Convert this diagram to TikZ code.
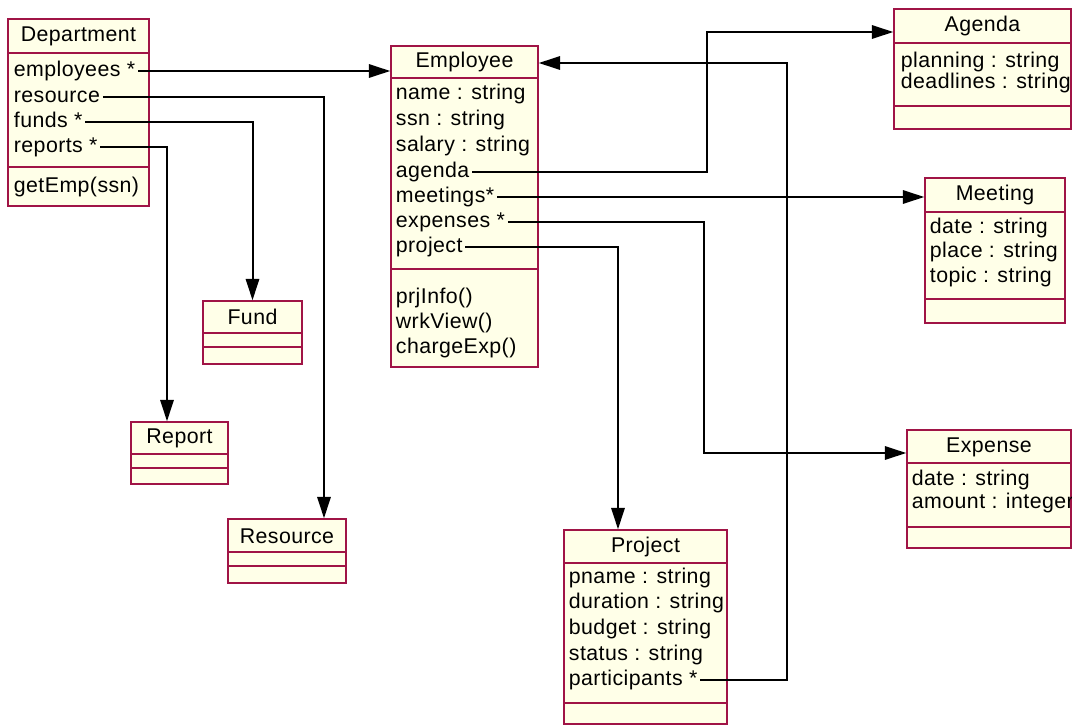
\documentclass[tikz,border=0pt]{standalone}
\usepackage{fontspec}
\setmainfont{Liberation Sans}[LetterSpace=2]
\usetikzlibrary{arrows.meta,fit}

\definecolor{classred}{RGB}{160,20,70}
\definecolor{classfill}{RGB}{255,255,232}

\tikzset{
  classbox/.style={draw=classred, fill=classfill, line width=1.1pt, inner sep=0pt},
  sepline/.style={draw=classred, line width=1.1pt},
  classname/.style={inner sep=0pt, font=\fontsize{16}{19}\selectfont},
  member/.style={anchor=west, inner xsep=2pt, inner ysep=0pt, text height=11.2pt, text depth=3.2pt, font=\fontsize{16}{19}\selectfont},
  assoc/.style={line width=1.5pt, -{Triangle[length=16pt,width=10pt]}},
}

\begin{document}
\begin{tikzpicture}[x=0.75pt, y=-0.75pt]
  \useasboundingbox (0,0) rectangle (1072,725);

  % Department
  \node[classbox, fit={(8,19) (149,206)}] (department) {};
  \draw[sepline] (8,53) -- (149,53);
  \draw[sepline] (8,167) -- (149,167);
  \node[classname] (department-name) at (78.5,36) {Department};
  \node[member] (dep-employees) at (11,71) {employees *};
  \node[member] (dep-resource) at (11,97) {resource};
  \node[member] (dep-funds) at (11,122) {funds *};
  \node[member] (dep-reports) at (11,147) {reports *};
  \node[member] (dep-getemp) at (11,187) {getEmp(ssn)};

  % Employee
  \node[classbox, fit={(391,46) (538,367)}] (employee) {};
  \draw[sepline] (391,78) -- (538,78);
  \draw[sepline] (391,269) -- (538,269);
  \node[classname] (employee-name) at (464.5,62) {Employee};
  \node[member] (emp-name) at (393,94) {name : string};
  \node[member] (emp-ssn) at (393,120) {ssn : string};
  \node[member] (emp-salary) at (393,146) {salary : string};
  \node[member] (emp-agenda) at (393,172) {agenda};
  \node[member] (emp-meetings) at (393,197) {meetings*};
  \node[member] (emp-expenses) at (393,222) {expenses *};
  \node[member] (emp-project) at (393,247) {project};
  \node[member] (emp-prjinfo) at (393,298) {prjInfo()};
  \node[member] (emp-wrkview) at (393,323) {wrkView()};
  \node[member] (emp-chargeexp) at (393,348) {chargeExp()};

  % Agenda
  \node[classbox, fit={(894,9) (1071,129)}] (agenda) {};
  \draw[sepline] (894,43) -- (1071,43);
  \draw[sepline] (894,106) -- (1071,106);
  \node[classname] (agenda-name) at (982.5,26) {Agenda};
  \node[member] (ag-planning) at (898,62) {planning : string};
  \node[member] (ag-deadlines) at (898,83) {deadlines : string};

  % Meeting
  \node[classbox, fit={(925,178) (1065,323)}] (meeting) {};
  \draw[sepline] (925,212) -- (1065,212);
  \draw[sepline] (925,299) -- (1065,299);
  \node[classname] (meeting-name) at (995,195) {Meeting};
  \node[member] (mt-date) at (927,228) {date : string};
  \node[member] (mt-place) at (927,252) {place : string};
  \node[member] (mt-topic) at (927,277) {topic : string};

  % Expense
  \node[classbox, fit={(907,430) (1071,548)}] (expense) {};
  \draw[sepline] (907,463) -- (1071,463);
  \draw[sepline] (907,527) -- (1071,527);
  \node[classname] (expense-name) at (989,447) {Expense};
  \node[member] (ex-date) at (909,480) {date : string};
  \node[member] (ex-amount) at (909,503) {amount : integer};

  % Project
  \node[classbox, fit={(564,530) (727,724)}] (project) {};
  \draw[sepline] (564,563) -- (727,563);
  \draw[sepline] (564,703) -- (727,703);
  \node[classname] (project-name) at (645.5,547) {Project};
  \node[member] (prj-pname) at (566,578) {pname : string};
  \node[member] (prj-duration) at (566,603) {duration : string};
  \node[member] (prj-budget) at (566,629) {budget : string};
  \node[member] (prj-status) at (566,655) {status : string};
  \node[member] (prj-participants) at (566,680) {participants *};

  % Fund, Report, Resource
  \node[classbox, fit={(203,301) (302,364)}] (fund) {};
  \draw[sepline] (203,333) -- (302,333);
  \draw[sepline] (203,347) -- (302,347);
  \node[classname] (fund-name) at (252.5,317) {Fund};

  \node[classbox, fit={(131,422) (228,484)}] (report) {};
  \draw[sepline] (131,454) -- (228,454);
  \draw[sepline] (131,468) -- (228,468);
  \node[classname] (report-name) at (179.5,438) {Report};

  \node[classbox, fit={(228,519) (346,583)}] (resource) {};
  \draw[sepline] (228,552) -- (346,552);
  \draw[sepline] (228,566) -- (346,566);
  \node[classname] (resource-name) at (287,536) {Resource};

  % associations
  \coordinate (resbend) at (324,99);
  \coordinate (repbend) at (167,150);
  \coordinate (agbend) at (707,32);
  \coordinate (expbend) at (704,453);
  \coordinate (prjbend) at (618,247);
  \coordinate (partbend) at (787,63);

  \draw[assoc] (dep-employees.east) -- (dep-employees.east -| employee.west);
  \draw[assoc] (dep-resource.east) -| (resbend |- resource.north);
  \draw[assoc] (dep-funds.east) -| (fund.north);
  \draw[assoc] (dep-reports.east) -| (repbend |- report.north);
  \draw[assoc] (emp-agenda.east) -| (agbend) -- (agbend -| agenda.west);
  \draw[assoc] (emp-meetings.east) -- (emp-meetings.east -| meeting.west);
  \draw[assoc] (emp-expenses.east) -| (expbend) -- (expbend -| expense.west);
  \draw[assoc] (emp-project.east) -| (prjbend |- project.north);
  \draw[assoc] (prj-participants.east) -| (partbend) -- (partbend -| employee.east);
\end{tikzpicture}
\end{document}
